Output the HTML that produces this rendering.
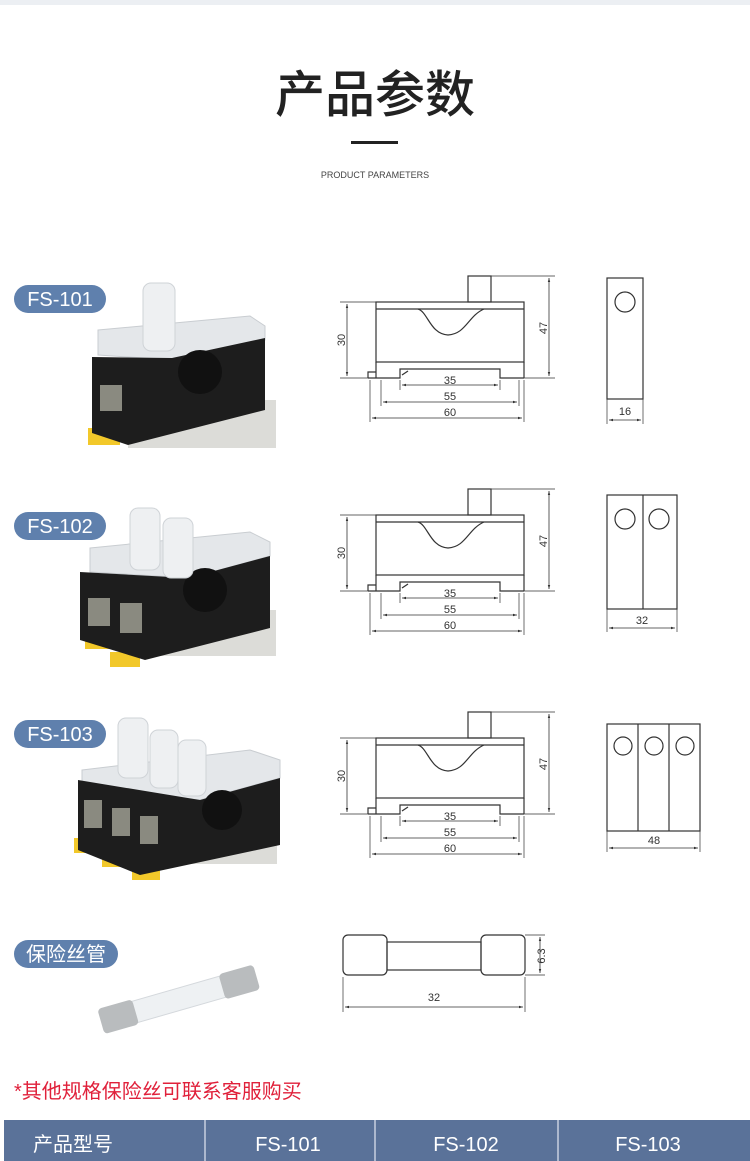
<!DOCTYPE html>
<html><head><meta charset="utf-8"><style>
html,body{margin:0;padding:0;background:#fff;}
svg{display:block;}
text{font-family:"Liberation Sans","Noto Sans CJK SC",sans-serif;}
</style></head><body>
<svg width="750" height="1161" viewBox="0 0 750 1161" xmlns="http://www.w3.org/2000/svg">
<defs>
<marker id="a" viewBox="0 0 10 10" refX="10" refY="5" markerWidth="7" markerHeight="5" orient="auto-start-reverse"><path d="M0,2 L10,5 L0,8 z" fill="#333"/></marker>
<g id="front" stroke="#333" stroke-width="1.2" fill="none">
<rect x="468" y="276" width="23" height="26" fill="#fff"/>
<rect x="376" y="302" width="148" height="60"/>
<line x1="376" y1="309" x2="524" y2="309"/>
<path d="M418,309 C428,312 430,334 448,335 C466,334 468,316 484,309"/>
<path d="M376,362 V378 M524,362 V378 M368,378 H400 V369 H500 V378 H524"/>
<path d="M368,378 V372 H376"/>
<path d="M402,375 L408,371"/>
<path d="M340,302 H376 M340,378 H368 M491,276 H555 M524,378 H555 M370,380 V422 M524,380 V422 M400,380 V390 M500,380 V390 M381,380 V406 M519,380 V406" stroke-width="0.7"/>
<line x1="347" y1="304" x2="347" y2="376" marker-start="url(#a)" marker-end="url(#a)" stroke-width="0.8"/>
<line x1="549" y1="278" x2="549" y2="376" marker-start="url(#a)" marker-end="url(#a)" stroke-width="0.8"/>
<line x1="402" y1="385" x2="498" y2="385" marker-start="url(#a)" marker-end="url(#a)" stroke-width="0.8"/>
<line x1="383" y1="402" x2="517" y2="402" marker-start="url(#a)" marker-end="url(#a)" stroke-width="0.8"/>
<line x1="372" y1="418" x2="522" y2="418" marker-start="url(#a)" marker-end="url(#a)" stroke-width="0.8"/>
</g>
</defs>
<rect x="0" y="0" width="750" height="5" fill="#eceff3"/>
<text x="375" y="112" font-size="50" font-weight="500" text-anchor="middle" fill="#222" font-family="Noto Sans CJK SC, sans-serif">产品参数</text>
<rect x="351" y="141" width="47" height="3" fill="#222"/>
<text x="375" y="178" font-size="9" text-anchor="middle" fill="#444">PRODUCT PARAMETERS</text>

<g fill="#5f80ad"><rect x="14" y="285" width="92" height="28" rx="14"/><rect x="14" y="512" width="92" height="28" rx="14"/><rect x="14" y="720" width="92" height="28" rx="14"/><rect x="14" y="940" width="104" height="28" rx="14"/></g>
<g fill="#fff" font-size="20" text-anchor="middle"><text x="60" y="306">FS-101</text><text x="60" y="533">FS-102</text><text x="60" y="741">FS-103</text><text x="66" y="961" font-family="Noto Sans CJK SC, sans-serif">保险丝管</text></g>

<g>
<rect x="128" y="400" width="148" height="48" fill="#dcdcd8"/>
<rect x="88" y="428" width="32" height="17" fill="#f2c82a"/>
<path d="M98,330 L250,316 L265,326 L265,340 L175,360 L98,355 Z" fill="#e4e7ea" stroke="#c9cdd1"/>
<path d="M92,357 L172,358 L265,338 L265,410 L128,445 L92,433 Z" fill="#1d1d1d"/>
<circle cx="200" cy="372" r="22" fill="#111"/>
<rect x="100" y="385" width="22" height="26" fill="#8a8a80"/>
<rect x="143" y="283" width="32" height="68" rx="8" fill="#eef0f2" stroke="#cfd3d7"/>
</g>
<g>
<rect x="150" y="610" width="126" height="46" fill="#dcdcd8"/>
<rect x="85" y="634" width="28" height="15" fill="#f2c82a"/><rect x="110" y="652" width="30" height="15" fill="#f2c82a"/>
<path d="M90,548 L250,532 L270,542 L270,556 L190,578 L90,572 Z" fill="#e4e7ea" stroke="#c9cdd1"/>
<path d="M80,572 L188,578 L270,556 L270,628 L145,660 L80,640 Z" fill="#1d1d1d"/>
<circle cx="205" cy="590" r="22" fill="#111"/>
<rect x="88" y="598" width="22" height="28" fill="#8a8a80"/><rect x="120" y="603" width="22" height="30" fill="#8a8a80"/>
<rect x="130" y="508" width="30" height="62" rx="8" fill="#eef0f2" stroke="#cfd3d7"/>
<rect x="163" y="518" width="30" height="60" rx="8" fill="#eef0f2" stroke="#cfd3d7"/>
</g>
<g>
<rect x="165" y="830" width="112" height="34" fill="#dcdcd8"/>
<rect x="74" y="838" width="28" height="15" fill="#f2c82a"/><rect x="102" y="852" width="28" height="15" fill="#f2c82a"/><rect x="132" y="865" width="28" height="15" fill="#f2c82a"/>
<path d="M82,770 L250,750 L280,760 L280,778 L200,800 L82,790 Z" fill="#e4e7ea" stroke="#c9cdd1"/>
<path d="M78,780 L200,800 L280,778 L280,845 L140,875 L78,850 Z" fill="#1d1d1d"/>
<circle cx="222" cy="810" r="20" fill="#111"/>
<rect x="84" y="800" width="18" height="28" fill="#8a8a80"/><rect x="112" y="808" width="18" height="28" fill="#8a8a80"/><rect x="140" y="816" width="18" height="28" fill="#8a8a80"/>
<rect x="118" y="718" width="30" height="60" rx="8" fill="#eef0f2" stroke="#cfd3d7"/>
<rect x="150" y="730" width="28" height="58" rx="8" fill="#eef0f2" stroke="#cfd3d7"/>
<rect x="178" y="740" width="28" height="56" rx="8" fill="#eef0f2" stroke="#cfd3d7"/>
</g>
<g transform="rotate(-16 180 1000)">
<rect x="120" y="988" width="120" height="22" fill="#eef1f3" stroke="#d4d8dc"/>
<rect x="98" y="986" width="36" height="26" rx="4" fill="#b9bcbe"/>
<rect x="224" y="986" width="36" height="26" rx="4" fill="#b9bcbe"/>
</g>

<use href="#front"/>
<use href="#front" transform="translate(0,213)"/>
<use href="#front" transform="translate(0,436)"/>
<g font-size="11" fill="#333" text-anchor="middle">
<text x="450" y="384">35</text><text x="450" y="400">55</text><text x="450" y="416">60</text>
<text x="450" y="597">35</text><text x="450" y="613">55</text><text x="450" y="629">60</text>
<text x="450" y="820">35</text><text x="450" y="836">55</text><text x="450" y="852">60</text>
<text transform="translate(345,340) rotate(-90)">30</text><text transform="translate(547,328) rotate(-90)">47</text>
<text transform="translate(345,553) rotate(-90)">30</text><text transform="translate(547,541) rotate(-90)">47</text>
<text transform="translate(345,776) rotate(-90)">30</text><text transform="translate(547,764) rotate(-90)">47</text>
</g>

<g stroke="#333" stroke-width="1.2" fill="none">
<rect x="607" y="278" width="36" height="121"/><circle cx="625" cy="302" r="10"/>
<path d="M607,399 V424 M643,399 V424" stroke-width="0.7"/>
<line x1="609" y1="420" x2="641" y2="420" marker-start="url(#a)" marker-end="url(#a)" stroke-width="0.8"/>
<rect x="607" y="495" width="70" height="114"/><line x1="643" y1="495" x2="643" y2="609"/>
<circle cx="625" cy="519" r="10"/><circle cx="659" cy="519" r="10"/>
<path d="M607,609 V632 M677,609 V632" stroke-width="0.7"/>
<line x1="609" y1="628" x2="675" y2="628" marker-start="url(#a)" marker-end="url(#a)" stroke-width="0.8"/>
<rect x="607" y="724" width="93" height="107"/><line x1="638" y1="724" x2="638" y2="831"/><line x1="669" y1="724" x2="669" y2="831"/>
<circle cx="623" cy="746" r="9"/><circle cx="654" cy="746" r="9"/><circle cx="685" cy="746" r="9"/>
<path d="M607,831 V852 M700,831 V852" stroke-width="0.7"/>
<line x1="609" y1="848" x2="698" y2="848" marker-start="url(#a)" marker-end="url(#a)" stroke-width="0.8"/>
<rect x="343" y="935" width="44" height="40" rx="5"/><rect x="387" y="942" width="94" height="28"/><rect x="481" y="935" width="44" height="40" rx="5"/>
<path d="M525,935 H545 M525,975 H545 M343,977 V1012 M525,977 V1012" stroke-width="0.7"/>
<line x1="540" y1="937" x2="540" y2="973" marker-start="url(#a)" marker-end="url(#a)" stroke-width="0.8"/>
<line x1="345" y1="1007" x2="523" y2="1007" marker-start="url(#a)" marker-end="url(#a)" stroke-width="0.8"/>
</g>
<g font-size="11" fill="#333" text-anchor="middle">
<text x="625" y="415">16</text><text x="642" y="624">32</text><text x="654" y="844">48</text>
<text x="434" y="1001">32</text><text transform="translate(545,956) rotate(-90)">6.3</text>
</g>

<text x="14" y="1098" font-size="20" fill="#e0203a" font-family="Noto Sans CJK SC, sans-serif">*其他规格保险丝可联系客服购买</text>
<rect x="4" y="1120" width="746" height="41" fill="#5a7299"/>
<g stroke="#c7d0df" stroke-width="1.5"><line x1="205" y1="1120" x2="205" y2="1161"/><line x1="375" y1="1120" x2="375" y2="1161"/><line x1="558" y1="1120" x2="558" y2="1161"/></g>
<g fill="#fff" font-size="20"><text x="33" y="1151" font-family="Noto Sans CJK SC, sans-serif">产品型号</text>
<text x="288" y="1151" text-anchor="middle">FS-101</text><text x="466" y="1151" text-anchor="middle">FS-102</text><text x="648" y="1151" text-anchor="middle">FS-103</text></g>
</svg>
</body></html>
